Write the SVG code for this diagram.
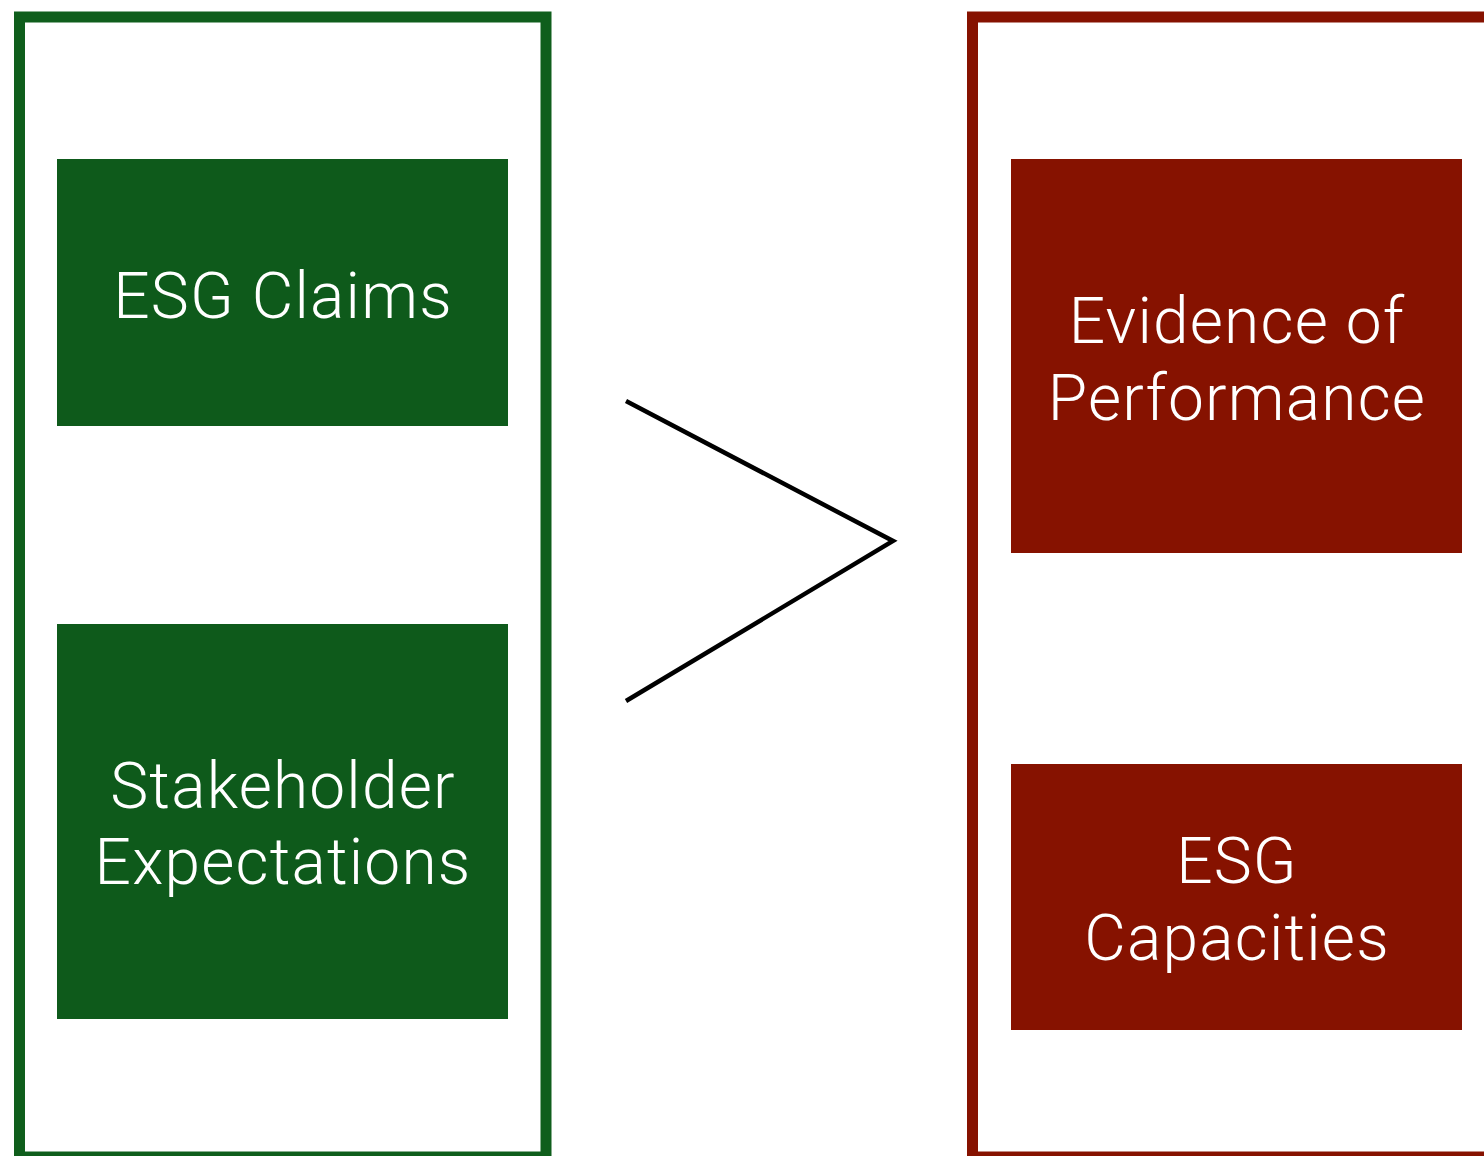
<svg xmlns="http://www.w3.org/2000/svg" width="1484" height="1156" viewBox="0 0 1484 1156">
<style>
.frame{fill:none;stroke-width:11}
.g{fill:#0e5a1b}
.r{fill:#861200}
.t{font-family:"Helvetica Neue",Roboto,"Liberation Sans",sans-serif;font-weight:300;font-size:64px;letter-spacing:1.2px;fill:#ffffff;text-anchor:middle}
.conn{fill:none;stroke:#000;stroke-width:4.5}
</style>
<rect width="1484" height="1156" fill="#ffffff"/>
<g id="frame-left"><rect class="frame" x="19.5" y="17" width="526.5" height="1140" stroke="#0f5e1c"/></g>
<g id="frame-right"><rect class="frame" x="972.5" y="17" width="540" height="1140" stroke="#861200"/></g>
<g id="esg-claims"><rect class="g" x="57" y="159" width="451" height="267"/><text class="t" x="283" y="318">ESG Claims</text></g>
<g id="stakeholder-expectations"><rect class="g" x="57" y="624" width="451" height="395"/><text class="t" x="283" y="808">Stakeholder</text><text class="t" x="283" y="884">Expectations</text></g>
<g id="evidence-of-performance"><rect class="r" x="1011" y="159" width="451" height="394"/><text class="t" x="1237" y="343">Evidence of</text><text class="t" x="1237" y="420">Performance</text></g>
<g id="esg-capacities"><rect class="r" x="1011" y="764" width="451" height="266"/><text class="t" x="1237" y="883">ESG</text><text class="t" x="1237" y="960">Capacities</text></g>
<g id="connectors"><polyline class="conn" points="626,401 893,541 626,701"/></g>
</svg>
